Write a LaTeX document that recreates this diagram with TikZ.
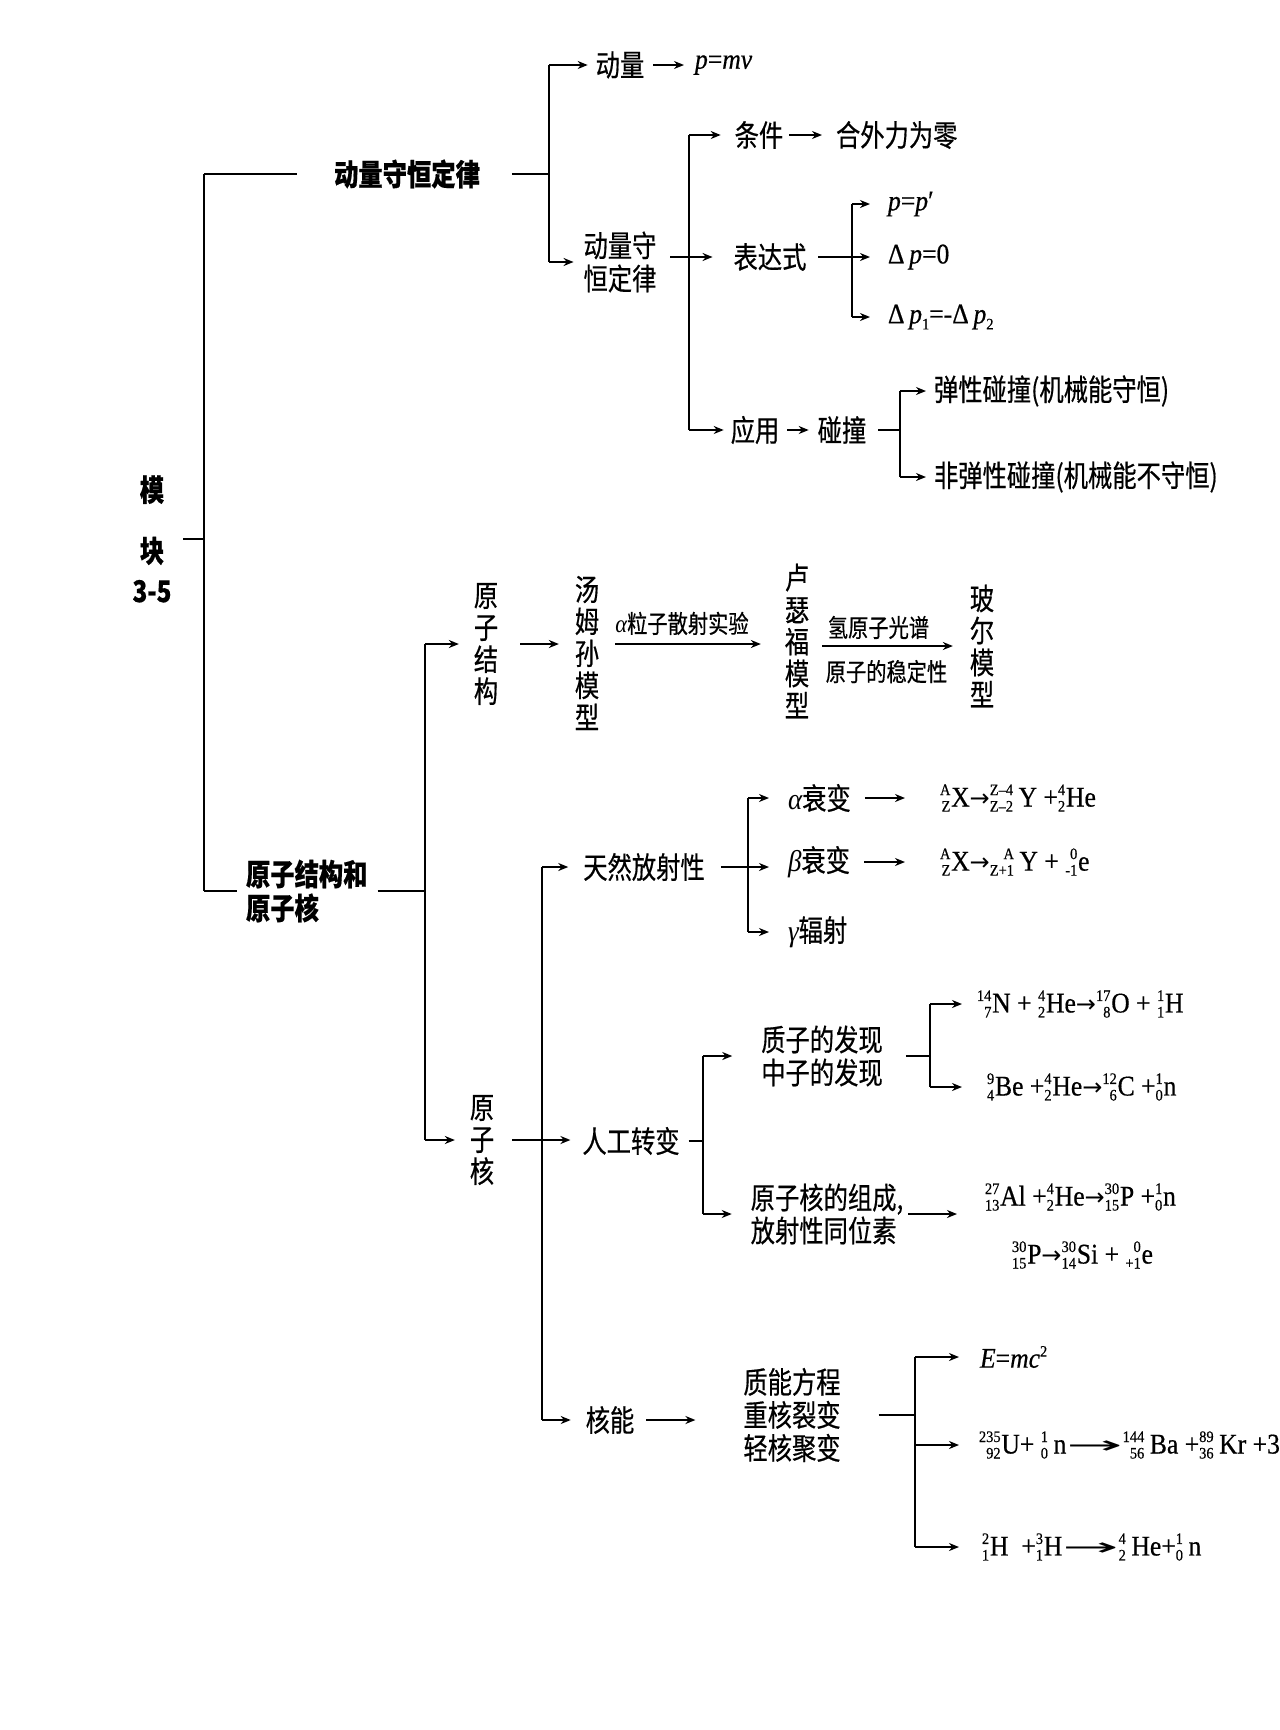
\documentclass[tikz,border=0pt]{standalone}
\usepackage{fontspec}
\usepackage{graphicx}
\setmainfont{Liberation Serif}[FakeStretch=0.9]
\newfontfamily\fmf{Liberation Serif}[FakeStretch=0.9,FakeBold=0.5]
\newfontfamily\arrfont{DejaVu Sans}
\newfontfamily\cjk{Noto Sans CJK SC}[FakeStretch=0.81,FakeBold=0.5]
\usetikzlibrary{arrows.meta}
\newsavebox\nucsup
\newsavebox\nucsub
\newlength\nucw
\newcommand\nucfont{\fontsize{16}{16}\selectfont}
\newcommand\nuc[3]{\mbox{\sbox\nucsup{\nucfont #1}\sbox\nucsub{\nucfont #2}%
  \setlength\nucw{\wd\nucsup}\ifdim\wd\nucsub>\nucw\setlength\nucw{\wd\nucsub}\fi
  \makebox[\nucw][r]{\raisebox{11.5pt}{\usebox\nucsup}}\llap{\raisebox{-5pt}{\usebox\nucsub}}\kern0.8pt#3}}
\newcommand\farr{{\arrfont\fontsize{24}{24}\selectfont→}}
\newcommand\larr{\scalebox{2.8}[1]{\arrfont\fontsize{24}{24}\selectfont→}}
\newcommand\sbs[1]{\raisebox{-6pt}{\fontsize{16}{16}\selectfont #1}}
\newcommand\sps[1]{\raisebox{11pt}{\fontsize{16}{16}\selectfont #1}}
\begin{document}
\begin{tikzpicture}[x=1pt,y=-1pt,
  every node/.style={inner sep=0pt,outer sep=0pt},
  t/.style={font=\cjk\fontsize{30}{33}\selectfont,align=center},
  tb/.style={font=\cjk\bfseries\fontsize{30}{34}\selectfont,align=center},
  vt/.style={font=\cjk\fontsize{30}{32}\selectfont,align=center},
  lab/.style={font=\cjk\fontsize{25}{27}\selectfont},
  fm/.style={font=\fmf\fontsize{28.5}{31}\selectfont,anchor=west},
  ln/.style={line width=1.8pt},
  arr/.style={ln,-{Stealth[length=10pt,width=8pt]}}]
\fill[white] (0,0) rectangle (1280,1730);
\useasboundingbox (0,0) rectangle (1280,1730);
% vertical line positions
\coordinate (v0) at (204,0);
\coordinate (v1) at (549,0);
\coordinate (v2) at (689,0);
\coordinate (v3) at (852,0);
\coordinate (v4) at (900,0);
\coordinate (v5) at (425,0);
\coordinate (v6) at (542,0);
\coordinate (v7) at (748,0);
\coordinate (v8) at (703,0);
\coordinate (v9) at (930,0);
\coordinate (v10) at (915,0);
% ---------- nodes: top
\node[tb,font=\cjk\bfseries\fontsize{30}{50}\selectfont] (mk) at (152,539) {模\\[11pt]块\\[-10pt]3-5};
\node[tb] (dl) at (407,174) {动量守恒定律};
\node[t] (dlg) at (620,65) {动量};
\node[fm] (pmv) at (695,65) {\textit{p}=\textit{mv}};
\node[t] (dl2) at (620,262) {动量守\\恒定律};
\node[t] (tj) at (759,135) {条件};
\node[t,anchor=west] (hw) at (836,135) {合外力为零};
\node[t] (bds) at (770,257) {表达式};
\node[fm] (pp) at (888,204) {\textit{p}=\textit{p}′};
\node[fm] (dp0) at (888,257) {Δ\,\textit{p}=0};
\node[fm] (dp12) at (888,317) {Δ\,\textit{p}\sbs{1}=-Δ\,\textit{p}\sbs{2}};
\node[t] (yy) at (755,430) {应用};
\node[t] (pz) at (842,430) {碰撞};
\node[t,anchor=west] (tx) at (934,391) {弹性碰撞(机械能守恒)};
\node[t,anchor=west] (ftx) at (934,477) {非弹性碰撞(机械能不守恒)};
% ---------- nodes: bottom
\node[tb,align=left,anchor=west] (yz) at (246,891) {原子结构和\\原子核};
\node[vt] (yzjg) at (486,644) {原\\子\\结\\构};
\node[vt] (tms) at (587,653) {汤\\姆\\孙\\模\\型};
\node[vt] (lsf) at (797,641) {卢\\瑟\\福\\模\\型};
\node[vt] (bem) at (982,646) {玻\\尔\\模\\型};
\node[vt] (yzh) at (482,1140) {原\\子\\核};
\node[t] (trfs) at (644,867) {天然放射性};
\node[t] (rgzb) at (631,1141) {人工转变};
\node[t] (hn) at (610,1420) {核能};
\node[t,anchor=west] (asj) at (788,798) {{\rmfamily\itshape α}衰变};
\node[t,anchor=west] (bsj) at (788,862) {{\rmfamily\itshape β}衰变};
\node[t,anchor=west] (gfs) at (788,932) {{\rmfamily\itshape γ}辐射};
\node[fm] (fa) at (940,798) {\nuc{A}{Z}{X}\farr\nuc{Z–4}{Z–2}{\,Y} +\nuc{4}{2}{He}};
\node[fm] (fb) at (940,862) {\nuc{A}{Z}{X}\farr\nuc{A}{Z+1}{\,Y} + \nuc{0}{-1}{e}};
\node[t] (zzfx) at (822,1056) {质子的发现\\中子的发现};
\node[fm] (fN) at (977,1004) {\nuc{14}{7}{N} + \nuc{4}{2}{He}\farr\nuc{17}{8}{O} + \nuc{1}{1}{H}};
\node[fm] (fBe) at (987,1087) {\nuc{9}{4}{Be} +\nuc{4}{2}{He}\farr\nuc{12}{6}{C} +\nuc{1}{0}{n}};
\node[t,align=left] (yzhzc) at (827,1214) {原子核的组成,\\放射性同位素};
\node[fm] (fAl) at (985,1197) {\nuc{27}{13}{Al} +\nuc{4}{2}{He}\farr\nuc{30}{15}{P} +\nuc{1}{0}{n}};
\node[fm] (fP) at (1012,1255) {\nuc{30}{15}{P}\farr\nuc{30}{14}{Si} + \nuc{0}{+1}{e}};
\node[t] (zn) at (792,1415) {质能方程\\重核裂变\\轻核聚变};
\node[fm] (emc) at (980,1357) {\textit{E}=\textit{mc}\sps{2}};
\node[fm] (fU) at (979,1445) {\nuc{235}{92}{U}+ \nuc{1}{0}{\,n}\larr\nuc{144}{56}{\,Ba} +\nuc{89}{36}{\,Kr} +3\nuc{1}{0}{n}};
\node[fm] (fH) at (982,1547) {\nuc{2}{1}{H} \ +\nuc{3}{1}{H}\larr\nuc{4}{2}{\,He}+\nuc{1}{0}{\,n}};
% ---------- connectors: top
\draw[ln] (v0 |- dl.west) -- (v0 |- yz.west);
\draw[ln,shorten <=12pt] (mk.east) -- (v0 |- mk.east);
\draw[ln,shorten >=37pt] (v0 |- dl.west) -- (dl.west);
\draw[ln,shorten >=9pt] (v0 |- yz.west) -- (yz.west);
\draw[ln] (v1 |- dlg.west) -- (v1 |- dl2.west);
\draw[ln,shorten <=32pt] (dl.east) -- (v1 |- dl.east);
\draw[arr,shorten >=8pt] (v1 |- dlg.west) -- (dlg.west);
\draw[arr,shorten <=9pt,shorten >=11pt] (dlg.east) -- (pmv.west);
\draw[arr,shorten >=10pt] (v1 |- dl2.west) -- (dl2.west);
\draw[ln] (v2 |- tj.west) -- (v2 |- yy.west);
\draw[arr,shorten <=14pt,shorten >=21pt] (dl2.east |- bds.west) -- (bds.west);
\draw[arr,shorten >=14pt] (v2 |- tj.west) -- (tj.west);
\draw[arr,shorten <=6pt,shorten >=14pt] (tj.east) -- (hw.west);
\draw[arr,shorten >=7pt] (v2 |- yy.west) -- (yy.west);
\draw[ln] (v3 |- pp.west) -- (v3 |- dp12.west);
\draw[arr,shorten <=12pt,shorten >=18pt] (bds.east) -- (dp0.west);
\draw[arr,shorten >=18pt] (v3 |- pp.west) -- (pp.west);
\draw[arr,shorten >=18pt] (v3 |- dp12.west) -- (dp12.west);
\draw[arr,shorten <=8pt,shorten >=9pt] (yy.east) -- (pz.west);
\draw[ln,shorten <=12pt] (pz.east) -- (v4 |- pz.east);
\draw[ln] (v4 |- tx.west) -- (v4 |- ftx.west);
\draw[arr,shorten >=8pt] (v4 |- tx.west) -- (tx.west);
\draw[arr,shorten >=8pt] (v4 |- ftx.west) -- (ftx.west);
% ---------- connectors: atomic structure
\draw[ln,shorten <=10pt] (yz.east) -- (v5 |- yz.east);
\draw[ln] (v5 |- yzjg.west) -- (v5 |- yzh.west);
\draw[arr,shorten >=15pt] (v5 |- yzjg.west) -- (yzjg.west);
\draw[arr,shorten >=15pt] (v5 |- yzh.west) -- (yzh.west);
\draw[arr,shorten <=22pt,shorten >=16pt] (yzjg.east) -- (yzjg.east -| tms.west);
\draw[arr,shorten <=16pt,shorten >=24pt] (yzjg.east -| tms.east) -- (yzjg.east -| lsf.west)
  node[lab,midway,above=9pt,xshift=-10pt] {{\rmfamily\itshape α}粒子散射实验};
\draw[arr,shorten <=13pt,shorten >=17pt] (lsf.east |- bem.west) -- (bem.west)
  node[lab,midway,above=7pt,xshift=-11pt] {氢原子光谱}
  node[lab,midway,below=14pt,xshift=-3pt] {原子的稳定性};
% ---------- connectors: nucleus
\draw[arr,shorten <=18pt,shorten >=12pt] (yzh.east) -- (yzh.east -| rgzb.west);
\draw[ln] (v6 |- trfs.west) -- (v6 |- hn.west);
\draw[arr,shorten >=15pt] (v6 |- trfs.west) -- (trfs.west);
\draw[arr,shorten >=15pt] (v6 |- hn.west) -- (hn.west);
\draw[arr,shorten <=16pt,shorten >=19pt] (trfs.east) -- (trfs.east -| bsj.west);
\draw[ln] (v7 |- asj.west) -- (v7 |- gfs.west);
\draw[arr,shorten >=19pt] (v7 |- asj.west) -- (asj.west);
\draw[arr,shorten >=19pt] (v7 |- gfs.west) -- (gfs.west);
\draw[arr,shorten <=14pt,shorten >=35pt] (asj.east) -- (asj.east -| fa.west);
\draw[arr,shorten <=14pt,shorten >=35pt] (bsj.east) -- (bsj.east -| fb.west);
\draw[ln,shorten <=9pt] (rgzb.east) -- (v8 |- rgzb.east);
\draw[ln] (v8 |- zzfx.west) -- (v8 |- yzhzc.west);
\draw[arr,shorten >=29pt] (v8 |- zzfx.west) -- (zzfx.west);
\draw[arr,shorten >=19pt] (v8 |- yzhzc.west) -- (yzhzc.west);
\draw[ln,shorten <=23pt] (zzfx.east) -- (v9 |- zzfx.east);
\draw[ln] (v9 |- fN.west) -- (v9 |- fBe.west);
\draw[arr,shorten >=15pt] (v9 |- fN.west) -- (fN.west);
\draw[arr,shorten >=25pt] (v9 |- fBe.west) -- (fBe.west);
\draw[arr,shorten <=5pt,shorten >=28pt] (yzhzc.east) -- (yzhzc.east -| fAl.west);
\draw[arr,shorten <=12pt,shorten >=48pt] (hn.east) -- (hn.east -| zn.west);
\draw[ln,shorten <=38pt] (zn.east) -- (v10 |- zn.east);
\draw[ln] (v10 |- emc.west) -- (v10 |- fH.west);
\draw[arr,shorten >=21pt] (v10 |- emc.west) -- (emc.west);
\draw[arr,shorten >=20pt] (v10 |- fU.west) -- (fU.west);
\draw[arr,shorten >=23pt] (v10 |- fH.west) -- (fH.west);
\end{tikzpicture}
\end{document}
